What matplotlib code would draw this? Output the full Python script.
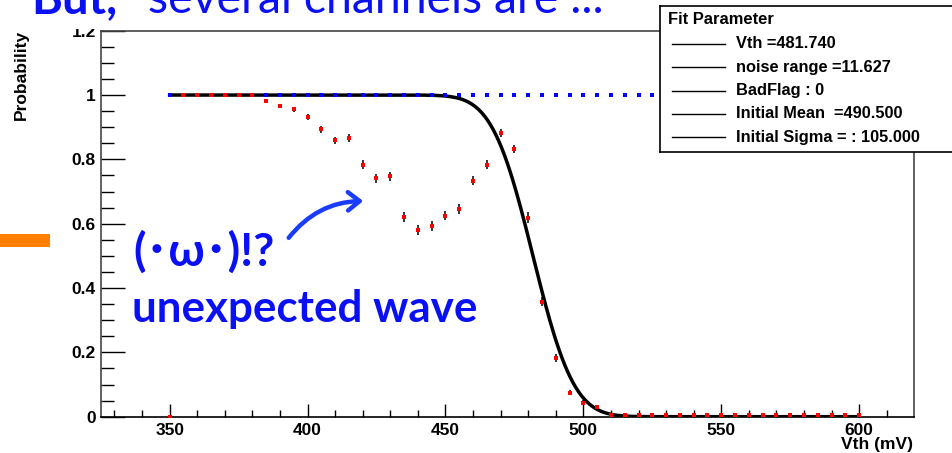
import math
import numpy as np
import matplotlib
matplotlib.use('Agg')
import matplotlib.pyplot as plt
from matplotlib.patches import Rectangle, FancyArrowPatch

# threshold scan of one channel (red points) and a good channel (blue)
vth = list(range(350, 605, 5))
prob = [0.0, 1.0, 1.0, 1.0, 1.0, 1.0, 1.0,
        0.982, 0.966, 0.956, 0.931, 0.894, 0.859, 0.867, 0.783, 0.742, 0.747,
        0.620, 0.581, 0.593, 0.625, 0.645, 0.733, 0.783, 0.882, 0.833, 0.619,
        0.358, 0.183, 0.075, 0.044, 0.031] + [0.004] * 19
prob_err = [0.0] + [0.002] * 6 + [
        0.006, 0.007, 0.008, 0.009, 0.011, 0.012, 0.012, 0.014, 0.014, 0.014,
        0.015, 0.016, 0.016, 0.015, 0.015, 0.014, 0.014, 0.011, 0.012, 0.016,
        0.015, 0.013, 0.009, 0.007, 0.006] + [0.002] * 19
good_prob = [1.0] * len(vth)

# fit parameters as shown in the box
fit_vth = 481.740
fit_noise = 11.627
legend_title = 'Fit Parameter'
legend_rows = ['Vth =481.740', 'noise range =11.627', 'BadFlag : 0',
               'Initial Mean  =490.500', 'Initial Sigma = : 105.000']

W, H = 953, 453
plt.rcParams['font.family'] = ['Liberation Sans', 'DejaVu Sans']
plt.rcParams['font.weight'] = 'bold'

fig = plt.figure(figsize=(W / 100, H / 100), dpi=100)


def fx(x):
    return x / W


def fy(y):
    return 1 - y / H


ax = fig.add_axes([fx(100.7), fy(416.7), (914.3 - 100.7) / W, (416.7 - 30.7) / H])

# fit curve
xf = np.linspace(vth[0], vth[-1], 500)
yf = [0.5 * math.erfc((v - fit_vth) / (math.sqrt(2) * fit_noise)) for v in xf]
ax.plot(xf, yf, color='black', lw=2.5, zorder=2)

ax.plot(vth, good_prob, 's', color='#0000ff', ms=2.4, mew=0, zorder=3)
ax.errorbar(vth, prob, yerr=prob_err, fmt='s', color='red', ms=2.6, mew=0,
            ecolor='black', elinewidth=1.1, capsize=2.3, capthick=1.1, zorder=4)

ax.set_xlim(325, 620)
ax.set_ylim(0, 1.2)
ax.set_xticks(np.arange(350, 601, 50))
ax.set_xticks(np.arange(330, 620, 10), minor=True)
ax.set_yticks(np.arange(0, 1.21, 0.2))
ax.set_yticks(np.arange(0, 1.2, 0.05), minor=True)
ax.set_yticklabels(['0', '0.2', '0.4', '0.6', '0.8', '1', '1.2'])
ax.tick_params(axis='both', which='both', direction='in', color='black', width=1,
               labelsize=12.5)
ax.tick_params(axis='x', which='major', length=9.4, pad=4.6)
ax.tick_params(axis='x', which='minor', length=5)
ax.tick_params(axis='y', which='major', length=17.3, pad=3.4)
ax.tick_params(axis='y', which='minor', length=9.4)
for s in ['left', 'right', 'top']:
    ax.spines[s].set_color('#444444')
    ax.spines[s].set_linewidth(1.2)
ax.spines['bottom'].set_color('black')
ax.spines['bottom'].set_linewidth(1.2)

fig.text(fx(21.7), fy(30), 'Probability', rotation=90, ha='center', va='top',
         fontsize=12.5, fontweight='bold')
fig.text(fx(913.5), fy(452.5), 'Vth (mV)', ha='right', va='bottom',
         fontsize=12.5, fontweight='bold')

# legend box
lax = fig.add_axes([fx(660), fy(152), 300 / W, 146 / H], zorder=6)
lax.set_xlim(0, 300)
lax.set_ylim(146, 0)
lax.set_xticks([])
lax.set_yticks([])
for s in lax.spines.values():
    s.set_color('black')
    s.set_linewidth(1.2)
lax.text(8, 14, legend_title, ha='left', va='center', fontsize=11.9, fontweight='bold')
for i, lab in enumerate(legend_rows):
    yy = 38 + i * 23.3
    lax.plot([11.7, 65], [yy, yy], color='black', lw=1)
    lax.text(76, yy, lab, ha='left', va='center', fontsize=11.8, fontweight='bold')

# slide decorations
fig.patches.append(Rectangle((0, fy(29)), fx(655), 29 / H, transform=fig.transFigure,
                             facecolor='white', edgecolor='none', zorder=5))
fig.patches.append(Rectangle((0, fy(246.7)), fx(50), 12.7 / H, transform=fig.transFigure,
                             facecolor='#ff7f00', edgecolor='none', zorder=5))

blue = '#0a10f5'
fig.text(fx(31.7), fy(13.3), 'But,', ha='left', va='baseline', fontsize=34,
         fontweight='bold', color=blue, family=['Lato', 'DejaVu Sans'], zorder=7)
fig.text(fx(148), fy(13.3), 'several channels are ...', ha='left', va='baseline',
         fontsize=33.5, fontweight='normal', color=blue, family=['Lato', 'DejaVu Sans'],
         zorder=7)

cjk = ['Lato', 'Noto Sans CJK JP', 'DejaVu Sans']
fig.text(fx(133), fy(266), '(･ω･)!?', ha='left', va='baseline', fontsize=33,
         fontweight='bold', color=blue, family=cjk, zorder=7)
fig.text(fx(131.7), fy(321.7), 'unexpected wave', ha='left', va='baseline', fontsize=31.7,
         fontweight='bold', color=blue, family=cjk, zorder=7)

arrow = FancyArrowPatch((fx(287), fy(240)), (fx(366), fy(201)), transform=fig.transFigure,
                        connectionstyle='arc3,rad=-0.25',
                        arrowstyle='->,head_length=0.7,head_width=0.55',
                        mutation_scale=12, color='#1a3cff', lw=3.2, zorder=7)
fig.patches.append(arrow)

fig.savefig('out.png', dpi=100)
